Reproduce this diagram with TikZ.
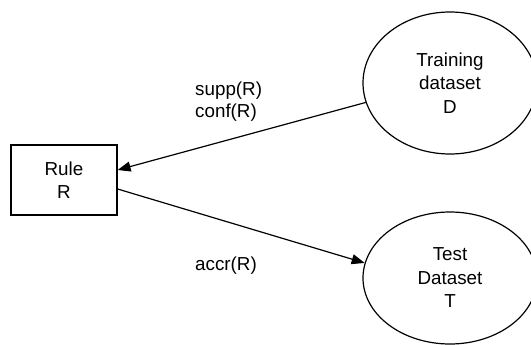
\documentclass[tikz,border=0pt]{standalone}
\usepackage{fontspec}
\setmainfont{Liberation Sans}
\usetikzlibrary{shapes.geometric,arrows.meta}
\tikzset{
  base/.style={font=\fontsize{18.8pt}{23.5pt}\selectfont, align=center, line width=1.2pt},
  rulebox/.style={base, draw, rectangle, minimum width=106pt, minimum height=70pt, inner sep=0pt},
  dataset/.style={base, draw, ellipse, minimum width=174pt, minimum height=142pt, inner sep=0pt},
  lbl/.style={font=\fontsize{18.8pt}{22pt}\selectfont, align=left, anchor=west, inner sep=0pt},
  flow/.style={line width=1.2pt, -{Triangle[length=13pt,width=10pt]}}
}
\begin{document}
\begin{tikzpicture}[x=1pt,y=-1pt]
  \useasboundingbox (0,0) rectangle (531,345);
  \node[rulebox] (rule) at (64,180) {Rule\\R};
  \node[dataset] (train) at (450,83) {Training\\dataset\\D};
  \node[dataset, minimum height=132pt] (test) at (450,278) {Test\\Dataset\\T};
  \draw[flow] (train.193) -- ([yshift=10pt]rule.east);
  \draw[flow] ([yshift=-9pt]rule.east) -- (test.170);
  \node[lbl] (sc) at (195,102) {supp(R)\\conf(R)};
  \node[lbl] (acc) at (195,266) {accr(R)};
\end{tikzpicture}
\end{document}
